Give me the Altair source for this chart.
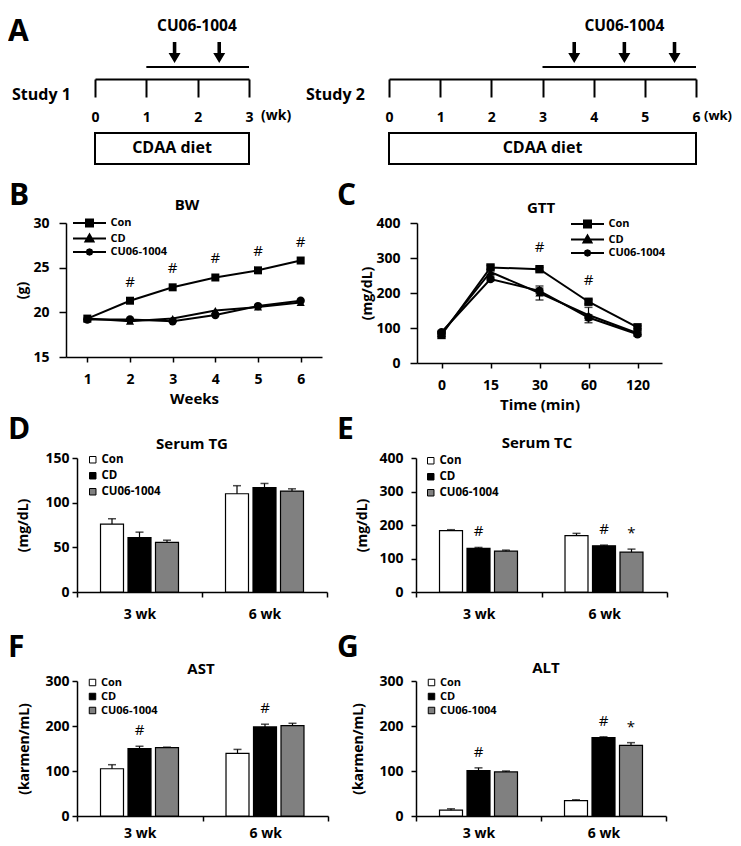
import altair as alt
import pandas as pd

FONT = "Open Sans"
SERIES = ["Con", "CD", "CU06-1004"]
BAR_COLORS = ["#ffffff", "#000000", "#808080"]
GROUPS = ["3 wk", "6 wk"]

# ---------------- Panel A: study design ----------------
study1_weeks = [0, 1, 2, 3]
study1_diet = [0, 3]
study1_treat = [1, 3]
study1_doses = [1.55, 2.42]
study2_weeks = [0, 1, 2, 3, 4, 5, 6]
study2_diet = [0, 6]
study2_treat = [3, 6]
study2_doses = [3.62, 4.6, 5.58]

# ---------------- Panel B: body weight ----------------
bw_weeks = [1, 2, 3, 4, 5, 6]
bw_con = [19.3, 21.3, 22.8, 23.9, 24.7, 25.8]
bw_cd = [19.3, 19.0, 19.3, 20.2, 20.6, 21.1]
bw_cu = [19.2, 19.2, 19.0, 19.7, 20.7, 21.3]
bw_err = [0, 0, 0, 0, 0, 0]
bw_sig = [2, 3, 4, 5, 6]

# ---------------- Panel C: GTT ----------------
gtt_time = ["0", "15", "30", "60", "120"]
gtt_con = [80, 273, 268, 175, 102]
gtt_cd = [85, 260, 200, 137, 85]
gtt_cu = [88, 240, 206, 130, 82]
gtt_con_err = [4, 6, 5, 6, 4]
gtt_cd_err = [4, 8, 20, 22, 4]
gtt_cu_err = [4, 6, 8, 8, 4]
gtt_sig = ["30", "60"]

# ---------------- Panels D-G: bars ----------------
tg_con, tg_cd, tg_cu = [76, 110], [61, 117], [55.5, 113]
tg_con_err, tg_cd_err, tg_cu_err = [6, 9], [6, 4.5], [2.5, 2.5]
tg_marks = []

tc_con, tc_cd, tc_cu = [183, 168], [130, 138], [122, 119]
tc_con_err, tc_cd_err, tc_cu_err = [3, 7], [3, 2], [3, 9]
tc_marks = [("3 wk", "CD", "#"), ("6 wk", "CD", "#"), ("6 wk", "CU06-1004", "*")]

ast_con, ast_cd, ast_cu = [105, 139], [150, 198], [152, 201]
ast_con_err, ast_cd_err, ast_cu_err = [9, 9], [5, 6], [1, 5]
ast_marks = [("3 wk", "CD", "#"), ("6 wk", "CD", "#")]

alt_con, alt_cd, alt_cu = [13, 34], [101, 174], [98, 157]
alt_con_err, alt_cd_err, alt_cu_err = [3, 2], [6, 2], [2, 6]
alt_marks = [("3 wk", "CD", "#"), ("6 wk", "CD", "#"), ("6 wk", "CU06-1004", "*")]

# ---------------- styling helpers ----------------
AX = dict(domainColor="black", domainWidth=1.5, tickColor="black", tickWidth=1.5,
          labelFont=FONT, labelFontWeight="bold", labelColor="black",
          titleFont=FONT, titleFontWeight="bold", titleColor="black",
          grid=False, labelFlush=False, labelOverlap=False)

ARROW = "M-0.17,-1L0.17,-1L0.17,0.05L0.57,0.05L0,1L-0.57,0.05L-0.17,0.05Z"
LEG_SQ = "M-3.3,0H3.3M-0.7,-0.7H0.7V0.7H-0.7Z"
LEG_TRI = "M-3.3,0H3.3M0,-0.8L0.8,0.6L-0.8,0.6Z"
LEG_CIR = "M-3.3,0H3.3M-0.55,0L-0.39,-0.39L0,-0.55L0.39,-0.39L0.55,0L0.39,0.39L0,0.55L-0.39,0.39Z"

IND = dict(fill="independent", stroke="independent", shape="independent", size="independent")


def label(text, x, y, size, align="center", weight="bold", baseline="middle"):
    return alt.Chart(pd.DataFrame({"t": [text]})).mark_text(
        font=FONT, fontSize=size, fontWeight=weight, align=align,
        baseline=baseline, color="black"
    ).encode(x=alt.value(x), y=alt.value(y), text="t:N")


def timeline(ticks, diet, treat, doses, cell, xr, study, study_x, wk_dx, wk_size, letter=None):
    ox, oy, w, h = cell
    xs = alt.Scale(domain=[ticks[0], ticks[-1]], range=[xr[0] - ox, xr[1] - ox], nice=False, zero=False)
    axis = alt.Axis(**{**AX, "orient": "bottom", "offset": (79 - oy) - h, "values": ticks,
                       "format": "d", "tickSize": 18, "tickWidth": 2, "domainWidth": 2,
                       "labelPadding": 13, "labelFontSize": 14, "labelAngle": 0, "title": None})

    def X(f):
        return alt.X(f"{f}:Q", scale=xs, axis=axis)

    seg = pd.DataFrame({"start": [treat[0]], "end": [treat[1]]})
    box = pd.DataFrame({"start": [diet[0]], "end": [diet[1]],
                        "mid": [(diet[0] + diet[1]) / 2], "t": ["CDAA diet"]})
    dose = pd.DataFrame({"wk": doses})
    drug = pd.DataFrame({"wk": [sum(doses) / len(doses)], "t": ["CU06-1004"]})
    unit = pd.DataFrame({"wk": [ticks[-1]], "t": ["(wk)"]})
    txt = dict(font=FONT, fontWeight="bold", color="black", baseline="middle")
    layers = [
        alt.Chart(box).mark_rect(fill="white", stroke="black", strokeWidth=2).encode(
            x=X("start"), x2="end", y=alt.value(133 - oy), y2=alt.value(164 - oy)),
        alt.Chart(box).mark_text(fontSize=16, **txt).encode(x=X("mid"), y=alt.value(148 - oy), text="t:N"),
        alt.Chart(seg).mark_rule(color="black", strokeWidth=2).encode(
            x=X("start"), x2="end", y=alt.value(67 - oy)),
        alt.Chart(dose).mark_point(shape=ARROW, size=441, filled=True, color="black", opacity=1).encode(
            x=X("wk"), y=alt.value(52.5 - oy)),
        alt.Chart(drug).mark_text(fontSize=15.5, **txt).encode(x=X("wk"), y=alt.value(26 - oy), text="t:N"),
        alt.Chart(unit).mark_text(fontSize=wk_size, align="left", dx=wk_dx, **txt).encode(
            x=X("wk"), y=alt.value(116 - oy), text="t:N"),
        label(study, study_x, 95 - oy, 16, align="left"),
    ]
    if letter:
        layers.append(label(letter, 0, 9, 30, align="left", baseline="top"))
    return alt.layer(*layers).properties(width=w, height=h)


def line_panel(cats, vals, errs, sig, sig_dy, cell, xr, yr, ydom, yticks, ytitle, ytitle_x,
               xtitle, xtitle_y, xpad, title, title_xy, letter, letter_xy, leg_xy, sizes):
    ox, oy, w, h = cell
    rows = []
    for s, vs, es in zip(SERIES, vals, errs):
        for c, v, e in zip(cats, vs, es):
            rows.append({"x": c, "series": s, "value": v, "lo": v - e, "hi": v + e, "err": e})
    df = pd.DataFrame(rows)
    xs = alt.Scale(type="point", domain=cats, range=[xr[0] - ox, xr[1] - ox], padding=0.5)
    ys = alt.Scale(domain=ydom, range=[yr[0] - oy, yr[1] - oy], nice=False, zero=False)
    xaxis = alt.Axis(**{**AX, "orient": "bottom", "offset": (yr[0] - oy) - h, "labelAngle": 0,
                        "tickSize": 5, "labelPadding": xpad, "labelFontSize": 14, "title": xtitle,
                        "titleFontSize": 15, "titleY": xtitle_y - yr[0], "titleBaseline": "middle"})
    yaxis = alt.Axis(**{**AX, "orient": "left", "offset": -(xr[0] - ox), "values": yticks,
                        "tickSize": 7, "labelPadding": 10, "labelFontSize": 14, "title": ytitle,
                        "titleFontSize": 14, "titleX": ytitle_x - xr[0],
                        "titleY": (yr[0] + yr[1]) / 2 - oy, "titleAngle": 270,
                        "titleBaseline": "middle"})
    X = alt.X("x:O", scale=xs, axis=xaxis, sort=None)

    def Y(f):
        return alt.Y(f"{f}:Q", scale=ys, axis=yaxis)

    shape_expr = ("datum.value === 'Con' ? '%s' : datum.value === 'CD' ? '%s' : '%s'"
                  % (LEG_SQ, LEG_TRI, LEG_CIR))
    legend = alt.Legend(orient="none", legendX=leg_xy[0], legendY=leg_xy[1], title=None, padding=0,
                        symbolSize=100, symbolStrokeWidth=2, symbolStrokeColor="black",
                        symbolFillColor="black", symbolType={"expr": shape_expr},
                        labelFont=FONT, labelFontSize=11, labelFontWeight="bold", labelColor="black",
                        labelOffset=15, rowPadding=-0.5)
    base = alt.Chart(df)
    layers = [
        base.mark_line(strokeWidth=2).encode(
            x=X, y=Y("value"),
            stroke=alt.Stroke("series:N", scale=alt.Scale(domain=SERIES, range=["black"] * 3), legend=legend)),
    ]
    edf = df[df.err > 0]
    if len(edf):
        eb = alt.Chart(edf)
        layers += [
            eb.mark_rule(color="black", strokeWidth=1.2).encode(x=X, y=Y("lo"), y2="hi:Q"),
            eb.mark_tick(orient="horizontal", size=8, thickness=1.5, color="black").encode(x=X, y=Y("hi")),
            eb.mark_tick(orient="horizontal", size=8, thickness=1.5, color="black").encode(x=X, y=Y("lo")),
        ]
    layers.append(base.mark_point(filled=True, color="black", opacity=1).encode(
        x=X, y=Y("value"),
        shape=alt.Shape("series:N", scale=alt.Scale(domain=SERIES, range=["square", "triangle-up", "circle"]), legend=None),
        size=alt.Size("series:N", scale=alt.Scale(domain=SERIES, range=sizes), legend=None)))
    sdf = df[(df.series == "Con") & (df.x.isin(sig))].assign(t="#")
    layers.append(alt.Chart(sdf).mark_text(dy=sig_dy, font=FONT, fontSize=15, color="black",
                                           baseline="middle").encode(x=X, y=Y("value"), text="t:N"))
    layers.append(label(title, title_xy[0], title_xy[1], 15))
    layers.append(label(letter, letter_xy[0], letter_xy[1], 30, align="left", baseline="top"))
    return alt.layer(*layers).resolve_scale(**IND).properties(width=w, height=h)


def bar_panel(vals, errs, marks, cell, xr, yr, ydom, yticks, ytitle, ytitle_x, xpad,
              title, title_xy, letter, letter_xy, leg_xy, rowpad, ylabpad, legfont):
    ox, oy, w, h = cell
    rows = []
    for s, vs, es in zip(SERIES, vals, errs):
        for g, v, e in zip(GROUPS, vs, es):
            rows.append({"g": g, "series": s, "value": v, "top": v + e})
    df = pd.DataFrame(rows)
    xs = alt.Scale(type="band", domain=GROUPS, range=[xr[0] - ox, xr[1] - ox], paddingInner=0, paddingOuter=0)
    xo = alt.Scale(type="band", domain=SERIES, paddingInner=0.164, paddingOuter=0.855)
    ys = alt.Scale(domain=ydom, range=[yr[0] - oy, yr[1] - oy], nice=False, zero=True)
    xaxis = alt.Axis(**{**AX, "orient": "bottom", "offset": (yr[0] - oy) - h, "labelAngle": 0,
                        "tickSize": 5, "tickBand": "extent", "labelPadding": xpad,
                        "labelFontSize": 14, "title": None})
    yaxis = alt.Axis(**{**AX, "orient": "left", "offset": -(xr[0] - ox), "values": yticks,
                        "tickSize": 5, "labelPadding": ylabpad, "labelFontSize": 14, "title": ytitle,
                        "titleFontSize": 14, "titleX": ytitle_x - xr[0],
                        "titleY": (yr[0] + yr[1]) / 2 - oy, "titleAngle": 270,
                        "titleBaseline": "middle"})
    X = alt.X("g:N", scale=xs, axis=xaxis, sort=None)
    XO = alt.XOffset("series:N", scale=xo, sort=None)

    def Y(f):
        return alt.Y(f"{f}:Q", scale=ys, axis=yaxis)

    legend = alt.Legend(orient="none", legendX=leg_xy[0], legendY=leg_xy[1], title=None, padding=0,
                        symbolType="square", symbolSize=42, symbolStrokeColor="black",
                        symbolStrokeWidth=1, labelFont=FONT, labelFontSize=legfont,
                        labelFontWeight="bold", labelColor="black", labelOffset=3, rowPadding=rowpad)
    base = alt.Chart(df)
    layers = [
        base.mark_bar(stroke="black", strokeWidth=1.2).encode(
            x=X, xOffset=XO, y=Y("value"),
            fill=alt.Fill("series:N", scale=alt.Scale(domain=SERIES, range=BAR_COLORS), legend=legend)),
        base.mark_rule(color="black", strokeWidth=1.2).encode(x=X, xOffset=XO, y=Y("value"), y2="top:Q"),
        base.mark_tick(orient="horizontal", size=8, thickness=1.5, color="black").encode(
            x=X, xOffset=XO, y=Y("top")),
    ]
    if marks:
        mdf = pd.DataFrame([{"g": g, "series": s, "t": t} for g, s, t in marks]).merge(df, on=["g", "series"])
        layers.append(alt.Chart(mdf).mark_text(dy=-16, font=FONT, fontSize=15, color="black",
                                               baseline="middle").encode(
            x=X, xOffset=XO, y=Y("top"), text="t:N"))
    layers.append(label(title, title_xy[0], title_xy[1], 15))
    layers.append(label(letter, letter_xy[0], letter_xy[1], 30, align="left", baseline="top"))
    return alt.layer(*layers).properties(width=w, height=h)


# ---------------- build panels ----------------
# cell = (ref_x_origin, ref_y_origin, width, height)
A1 = timeline(study1_weeks, study1_diet, study1_treat, study1_doses, (4, 8, 292, 165),
              (91, 245), "Study 1", 4, 12, 14, letter="A")
A2 = timeline(study2_weeks, study2_diet, study2_treat, study2_doses, (296, 8, 433, 165),
              (385, 692), "Study 2", 6, 8, 13)

B = line_panel(bw_weeks, [bw_con, bw_cd, bw_cu], [bw_err] * 3, bw_sig, -19,
               (4, 173, 325, 235), (62, 318), (357, 223), [15, 30], [15, 20, 25, 30],
               "(g)", 18, "Weeks", 398, 10, "BW", (179, 32), "B", (1, 8), (75.5, 44),
               [64, 70, 30])
C = line_panel(gtt_time, [gtt_con, gtt_cd, gtt_cu], [gtt_con_err, gtt_cd_err, gtt_cu_err],
               gtt_sig, -22, (329, 173, 400, 235), (413, 658), (363, 223), [0, 400],
               [0, 100, 200, 300, 400], "(mg/dL)", 363, "Time (min)", 404, 10, "GTT", (208, 35),
               "C", (4, 8), (248.5, 45), [70, 70, 30])

D = bar_panel([tg_con, tg_cd, tg_cu], [tg_con_err, tg_cd_err, tg_cu_err], tg_marks,
              (4, 408, 325, 215), (73, 323), (588, 454), [0, 150], [0, 50, 100, 150],
              "(mg/dL)", 19.5, 10, "Serum TG", (184, 32), "D", (0, 3), (79, 42), 3, 3, 11.5)
E = bar_panel([tc_con, tc_cd, tc_cu], [tc_con_err, tc_cd_err, tc_cu_err], tc_marks,
              (329, 408, 400, 215), (412, 663), (588, 454), [0, 400], [0, 100, 200, 300, 400],
              "(mg/dL)", 358, 10, "Serum TC", (204, 31), "E", (4, 3), (92, 43), 3, 8, 11.5)
F = bar_panel([ast_con, ast_cd, ast_cu], [ast_con_err, ast_cd_err, ast_cu_err], ast_marks,
              (4, 632, 325, 213), (73, 324), (821, 686), [0, 300], [0, 100, 200, 300],
              "(karmen/mL)", 20, 5, "AST", (193, 42), "F", (0, 6), (79, 50), 2, 3, 11)
G = bar_panel([alt_con, alt_cd, alt_cu], [alt_con_err, alt_cd_err, alt_cu_err], alt_marks,
              (329, 632, 400, 213), (412, 662), (821, 686), [0, 300], [0, 100, 200, 300],
              "(karmen/mL)", 354, 5, "ALT", (213, 41), "G", (4, 6), (93, 50), 2, 8, 11)


def row(a, b):
    return alt.hconcat(a, b, spacing=0).resolve_scale(**IND).resolve_legend(**IND)


chart = alt.vconcat(
    row(A1, A2), row(B, C), row(D, E), row(F, G),
    spacing=0,
).resolve_scale(**IND).resolve_legend(**IND).properties(
    padding=0, background="white"
).configure(font=FONT).configure_view(stroke=None, strokeWidth=0)

chart.save("out.html", embed_options={"renderer": "svg", "actions": False})
